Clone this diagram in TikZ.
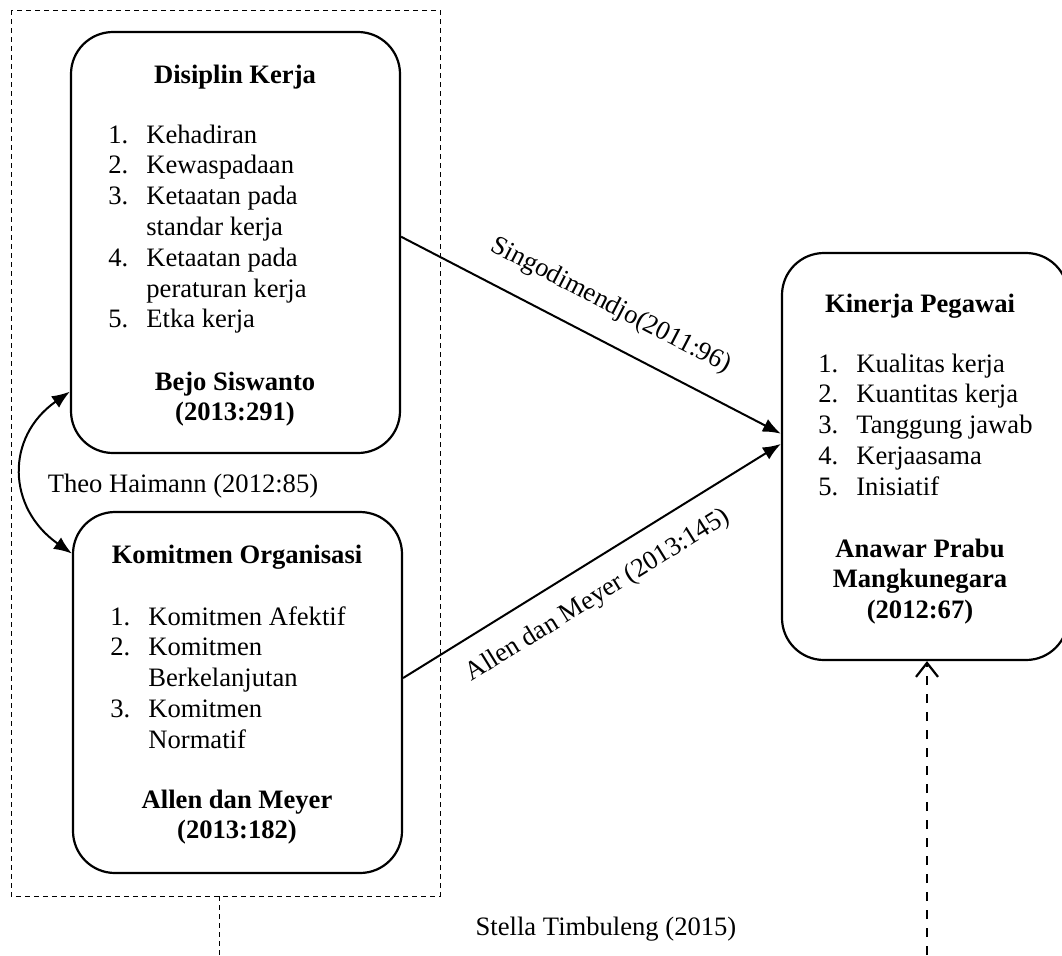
\documentclass[tikz,border=0pt]{standalone}
\usepackage{fontspec}
\setmainfont{Liberation Serif}
\usetikzlibrary{arrows.meta}

\tikzset{
  kotak/.style={draw, line width=1.1pt, rounded corners=21pt, inner sep=0pt},
  judul/.style={font=\fontsize{13.3}{15.4}\selectfont\bfseries, anchor=base, inner sep=0pt},
  daftar/.style={anchor=base west, inner sep=0pt},
  teks/.style={anchor=base, inner sep=0pt},
  panah/.style={-{Latex[length=9pt,width=7pt]}, line width=1pt},
  panahdua/.style={{Latex[length=9pt,width=7pt]}-{Latex[length=9pt,width=7pt]}, line width=1pt},
  garistipis/.style={line width=0.5pt, dash pattern=on 2.5pt off 2pt},
  garistebal/.style={line width=1.25pt, dash pattern=on 4.5pt off 4.5pt}
}
\newcommand{\butir}[1]{\begin{tabular}[t]{@{}p{19pt}@{}l@{}}#1\end{tabular}}

\begin{document}
\begin{tikzpicture}[x=0.5pt, y=-0.5pt, font=\fontsize{13.3}{15.4}\selectfont]
        \useasboundingbox (0,0) rectangle (1062,955);
        % kelompok variabel bebas
        \draw[garistipis] (11,10) rectangle (440,896);
        \coordinate (grupbawah) at (219,896);
        \coordinate (grupujung) at (219,955);
        \draw[garistipis] (grupbawah) -- (grupujung);
        % kotak
        \node[kotak, minimum width=164.5pt, minimum height=210.5pt] (disiplin) at (235.5,242.5) {};
        \node[kotak, minimum width=164.5pt, minimum height=180.5pt] (komitmen) at (237.5,692.5) {};
        \node[kotak, minimum width=143pt, minimum height=203.5pt] (kinerja) at (925,456.5) {};
        % isi disiplin kerja
        \node[judul] (jdisiplin) at (235,83) {Disiplin Kerja};
        \node[daftar] (ldisiplin) at (108,143) {\butir{1. & Kehadiran\\ 2. & Kewaspadaan\\ 3. & Ketaatan pada\\ & standar kerja\\ 4. & Ketaatan pada\\ & peraturan kerja\\ 5. & Etka kerja}};
        \node[judul] (rdisiplin) at (235,390) {\begin{tabular}[t]{@{}c@{}}Bejo Siswanto\\ (2013:291)\end{tabular}};
        % isi komitmen organisasi
        \node[judul] (jkomitmen) at (237,563) {Komitmen Organisasi};
        \node[daftar] (lkomitmen) at (110,625) {\butir{1. & Komitmen Afektif\\ 2. & Komitmen\\ & Berkelanjutan\\ 3. & Komitmen\\ & Normatif}};
        \node[judul] (rkomitmen) at (237,808) {\begin{tabular}[t]{@{}c@{}}Allen dan Meyer\\ (2013:182)\end{tabular}};
        % isi kinerja pegawai
        \node[judul] (jkinerja) at (920,312) {Kinerja Pegawai};
        \node[daftar] (lkinerja) at (818,372) {\butir{1. & Kualitas kerja\\ 2. & Kuantitas kerja\\ 3. & Tanggung jawab\\ 4. & Kerjaasama\\ 5. & Inisiatif}};
        \node[judul] (rkinerja) at (920,557) {\begin{tabular}[t]{@{}c@{}}Anawar Prabu\\ Mangkunegara\\ (2012:67)\end{tabular}};
        % hubungan
        \draw[panahdua] (disiplin.222) to[out=215, in=145, looseness=1.25] (komitmen.140);
        \node[teks] (theo) at (183,492) {Theo Haimann (2012:85)};
        \draw[panah] (disiplin.2) -- node[pos=0.51, sloped, above=11pt, inner sep=0pt] (lsingo) {Singodimendjo(2011:96)} (kinerja.171);
        \draw[panah] (komitmen.5) -- node[pos=0.47, sloped, below=10pt, inner sep=0pt] (lallen) {Allen dan Meyer (2013:145)} (kinerja.175);
        % simultan
        \coordinate (stellaujung) at (927,955);
        \draw[garistebal, -{Straight Barb[length=7pt,width=11pt,line width=1.1pt]}] (stellaujung) -- (stellaujung |- kinerja.south);
        \node[teks] (stella) at (606,935) {Stella Timbuleng (2015)};
\end{tikzpicture}
\end{document}
